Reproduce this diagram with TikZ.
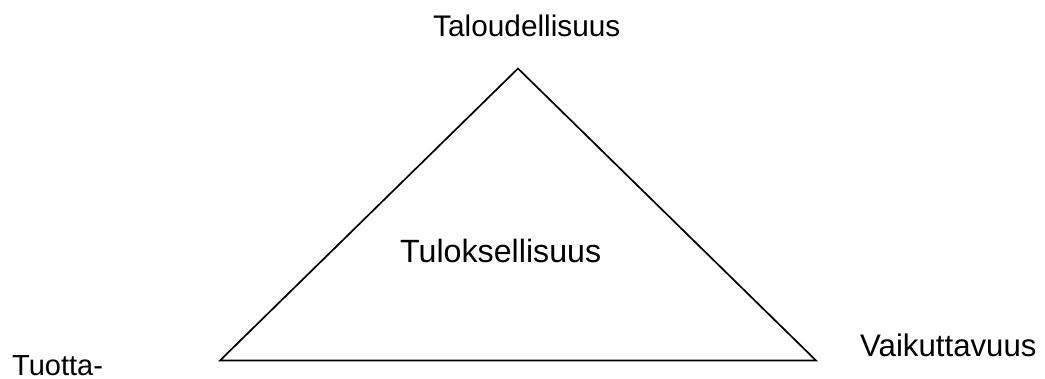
\documentclass[tikz,border=0pt]{standalone}
\usepackage{fontspec}
\setmainfont{Liberation Sans}
\begin{document}
\begin{tikzpicture}[x=1pt,y=-1pt,
  lbl/.style={inner sep=0pt, anchor=base west},
  edge/.style={line width=1.7pt, line join=miter}]
\useasboundingbox (0,0) rectangle (1045,378);
\coordinate (A) at (518,68.5);
\coordinate (L) at (220,360.5);
\coordinate (R) at (816,360.5);
\draw[edge] (A) -- (L) -- (R) -- cycle;
\node[lbl] (tal) at (433,36.7) {\fontsize{29.8}{34}\selectfont Taloudellisuus};
\node[lbl] (tul) at (400,262.7) {\fontsize{32.2}{38}\selectfont Tuloksellisuus};
\node[lbl] (vai) at (860,356) {\fontsize{31.2}{37}\selectfont Vaikuttavuus};
\node[lbl] (tuo) at (12,375.7) {\fontsize{29}{34}\selectfont Tuotta-};
\end{tikzpicture}
\end{document}
